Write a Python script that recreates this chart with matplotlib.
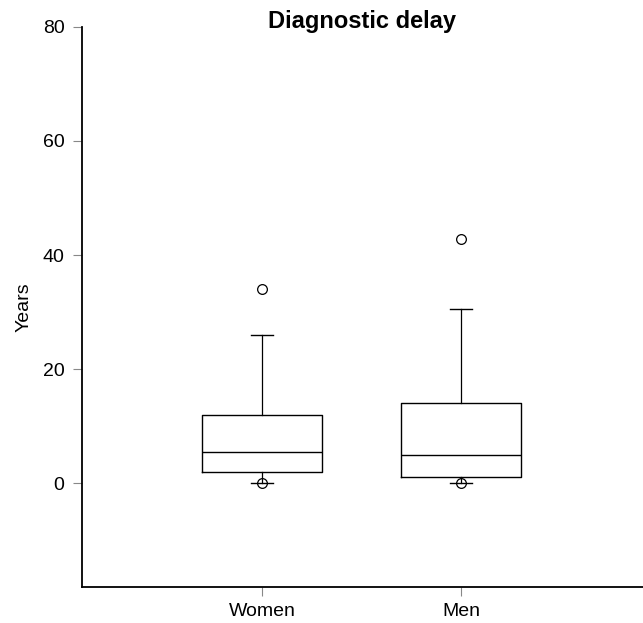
import matplotlib
matplotlib.use("Agg")
import matplotlib.pyplot as plt

plt.rcParams['font.family'] = ['Liberation Sans', 'DejaVu Sans']

# box statistics (years)
groups = ['Women', 'Men']
whisker_low = [0, 0]
q1 = [2, 1]
median = [5.5, 5]
q3 = [12, 14]
whisker_high = [26, 30.5]
outliers = [[0, 34], [0, 42.8]]

stats = []
for i, g in enumerate(groups):
    stats.append({'label': g, 'whislo': whisker_low[i], 'q1': q1[i], 'med': median[i],
                  'q3': q3[i], 'whishi': whisker_high[i], 'fliers': outliers[i]})

fig = plt.figure(figsize=(6.43, 6.23), dpi=100)
ax = fig.add_axes([0.1275, 0.0578, 0.8725, 0.899])

ax.bxp(stats, positions=[1, 2], widths=0.6, capwidths=0.11,
       boxprops=dict(color='black', linewidth=1.0),
       medianprops=dict(color='black', linewidth=1.0),
       whiskerprops=dict(color='black', linewidth=0.9),
       capprops=dict(color='black', linewidth=1.0),
       flierprops=dict(marker='o', markerfacecolor='none', markeredgecolor='black',
                       markersize=7, markeredgewidth=0.9))

ax.set_xlim(0.095, 2.915)
ax.set_ylim(-18.2, 80)
ax.set_yticks([0, 20, 40, 60, 80])
ax.set_xticks([1, 2])
ax.set_xticklabels(groups)

for s in ['top', 'right']:
    ax.spines[s].set_visible(False)
for s in ['left', 'bottom']:
    ax.spines[s].set_linewidth(1.3)

ax.tick_params(axis='both', direction='out', length=6.5, width=0.8, color='#888888',
               labelsize=14)
ax.tick_params(axis='y', pad=6)
ax.tick_params(axis='x', pad=5)
ax.set_ylabel('Years', fontsize=14, labelpad=7)
# title sits right on the top of the axes, drawn as plain text
ax.text(0.5, 0.998, 'Diagnostic delay', transform=ax.transAxes, ha='center',
        va='baseline', fontsize=17, fontweight='bold')

fig.savefig('out.png', dpi=100)
